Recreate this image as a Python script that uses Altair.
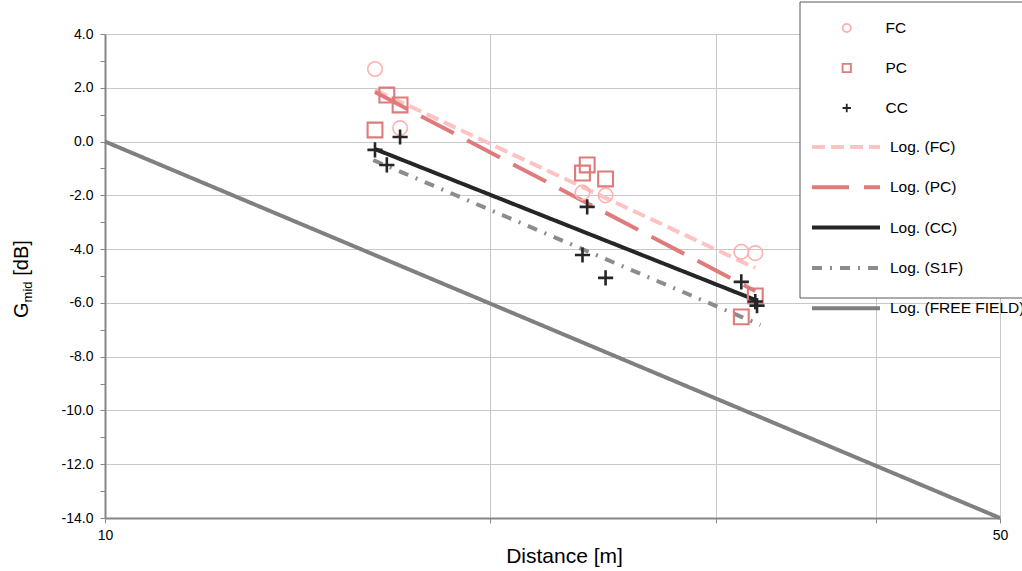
import altair as alt
import pandas as pd

# ---- data ----
series_names = ["FC", "PC", "CC"]
fc_dist = [16.25, 17.0, 23.6, 24.6, 31.4, 32.2]
fc_g = [2.7, 0.5, -1.9, -2.0, -4.1, -4.15]
pc_dist = [16.25, 16.6, 17.0, 23.6, 23.8, 24.6, 31.4, 32.2]
pc_g = [0.43, 1.73, 1.36, -1.17, -0.87, -1.39, -6.52, -5.74]
cc_dist = [16.25, 16.6, 17.0, 23.6, 23.8, 24.6, 31.4, 32.2, 32.3]
cc_g = [-0.31, -0.87, 0.17, -4.22, -2.43, -5.07, -5.22, -5.95, -6.1]

trend_names = ["Log. (FC)", "Log. (PC)", "Log. (CC)", "Log. (S1F)", "Log. (FREE FIELD)"]
trend_dist = [[16.25, 32.2], [16.25, 32.2], [16.25, 32.2], [16.2, 32.5], [10, 50]]
trend_g = [[1.92, -4.70], [1.84, -5.56], [-0.28, -5.89], [-0.69, -6.82], [0.0, -14.0]]

x_ticks = [10, 20, 30, 40, 50]
y_ticks = list(range(-14, 5))

# ---- tables ----
rows = []
for name, ds, gs in [("FC", fc_dist, fc_g), ("PC", pc_dist, pc_g), ("CC", cc_dist, cc_g)]:
    for d, g in zip(ds, gs):
        rows.append({"series": name, "dist": d, "g": g})
pts = pd.DataFrame(rows)

trows = []
for name, ds, gs in zip(trend_names, trend_dist, trend_g):
    for i, (d, g) in enumerate(zip(ds, gs)):
        trows.append({"trend": name, "dist": d, "g": g, "i": i})
tr = pd.DataFrame(trows)

FONT = "Liberation Sans"
pt_colors = ["#FFB0B0", "#E07B7B", "#262626"]
pt_shapes = ["circle", "square", "M-1,0H1M0,-1V1"]

x_enc = alt.X(
    "dist:Q",
    scale=alt.Scale(type="log", domain=[10, 50], nice=False),
    axis=alt.Axis(
        values=x_ticks,
        labelExpr="datum.value == 10 || datum.value == 50 ? datum.label : ''",
        grid=True, gridColor="#C8C8C8", gridWidth=1,
        tickColor="#868686", tickSize=5, tickWidth=1,
        domainColor="#868686", domainWidth=2,
        labelFontSize=14, labelColor="black", labelFont=FONT, labelFlush=False,
        labelPadding=5,
        title="Distance [m]", titleFontSize=21, titleFontWeight="normal",
        titleColor="black", titleFont=FONT,
        titleX=459, titleY=44, titleBaseline="alphabetic", titleAlign="center",
    ),
)
y_enc = alt.Y(
    "g:Q",
    scale=alt.Scale(domain=[-14, 4], nice=False),
    axis=alt.Axis(
        values=y_ticks,
        labelExpr="datum.value % 2 == 0 ? (datum.value < 0 ? '-' : '') + format(abs(datum.value), '.1f') : ''",
        grid=True, gridColor="#C8C8C8", gridWidth=1,
        gridOpacity={"condition": {"test": "datum.value % 2 != 0", "value": 0}, "value": 1},
        tickColor="#868686", tickSize=5, tickWidth=1,
        domainColor="#868686", domainWidth=2,
        labelFontSize=14, labelColor="black", labelFont=FONT, labelFlush=False,
        labelPadding=7, title=None,
    ),
)

pt_legend = alt.Legend(
    title=None, orient="none", legendX=734, legendY=-16, padding=0,
    labelFontSize=15.5, labelFont=FONT, labelColor="black", labelOffset=31,
    rowPadding=20, clipHeight=20, symbolSize=70, symbolStrokeWidth=1.8,
)
ln_legend = alt.Legend(
    title=None, orient="none", legendX=705, legendY=103, padding=0,
    labelFontSize=15.5, labelFont=FONT, labelColor="black", labelOffset=8,
    rowPadding=20.3, clipHeight=20, symbolSize=4624, symbolType="stroke",
)

lines = alt.Chart(tr).mark_line(strokeCap="butt").encode(
    x=x_enc, y=y_enc, order="i:Q",
    color=alt.Color("trend:N", scale=alt.Scale(domain=trend_names,
                    range=["#FFC2C2", "#E07B7B", "#262626", "#8C8C8C", "#808080"]), legend=ln_legend),
    strokeDash=alt.StrokeDash("trend:N", scale=alt.Scale(domain=trend_names,
                    range=[[13, 6], [37, 15], [1, 0], [10, 8, 2, 8], [1, 0]]), legend=ln_legend),
    strokeWidth=alt.StrokeWidth("trend:N", scale=alt.Scale(domain=trend_names,
                    range=[4, 4, 2.5, 2.5, 2]), legend=ln_legend),
)

# visible markers (no legend)
points = alt.Chart(pts).mark_point(filled=False, opacity=1).encode(
    x=x_enc, y=y_enc,
    color=alt.Color("series:N", scale=alt.Scale(domain=series_names, range=pt_colors), legend=None),
    shape=alt.Shape("series:N", scale=alt.Scale(domain=series_names, range=pt_shapes), legend=None),
    size=alt.Size("series:N", scale=alt.Scale(domain=series_names, range=[210, 230, 160]), legend=None),
    strokeWidth=alt.StrokeWidth("series:N", scale=alt.Scale(domain=series_names,
                    range=[1.6, 2.6, 1.6]), legend=None),
)

# legend carrier: no rows drawn, only the legend
legend_pts = alt.Chart(pts).transform_filter("false").mark_point(
    filled=False, opacity=1, size=70, strokeWidth=1.8).encode(
    x=x_enc, y=y_enc,
    color=alt.Color("series:N", scale=alt.Scale(domain=series_names, range=pt_colors), legend=pt_legend),
    shape=alt.Shape("series:N", scale=alt.Scale(domain=series_names, range=pt_shapes), legend=pt_legend),
)

one = pd.DataFrame({"a": [0]})
box = alt.Chart(one).mark_rect(fill="white", stroke="#595959", strokeWidth=1).encode(
    x=alt.value(695), x2=alt.value(940), y=alt.value(-32), y2=alt.value(264)
)
t_g = alt.Chart(one).mark_text(text="G", angle=270, align="left", baseline="alphabetic",
                               fontSize=20, font=FONT, color="black").encode(
    x=alt.value(-77), y=alt.value(284))
t_mid = alt.Chart(one).mark_text(text="mid", angle=270, align="left", baseline="alphabetic",
                                 fontSize=13, font=FONT, color="black").encode(
    x=alt.value(-73), y=alt.value(268.4))
t_db = alt.Chart(one).mark_text(text="[dB]", angle=270, align="left", baseline="alphabetic",
                                fontSize=20, font=FONT, color="black").encode(
    x=alt.value(-77), y=alt.value(241.8))

chart = alt.layer(lines, points, legend_pts, box, t_g, t_mid, t_db).resolve_scale(
    color="independent", strokeWidth="independent", shape="independent",
    strokeDash="independent", size="independent",
).properties(
    width=895, height=484,
    autosize=alt.AutoSizeParams(type="none"),
    padding={"left": 105, "top": 34, "right": 22, "bottom": 53},
).configure_view(stroke=None).configure(font=FONT)

chart.save("out.html", embed_options={"renderer": "svg", "actions": False})
